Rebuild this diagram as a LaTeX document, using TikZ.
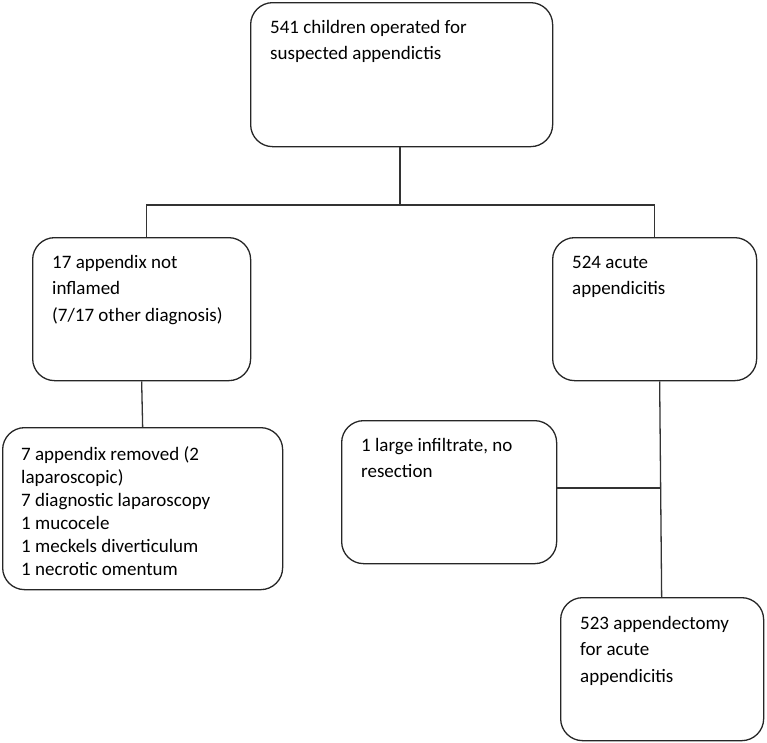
\documentclass[tikz,border=0pt]{standalone}
\usepackage{fontspec}
\setmainfont{Carlito}
\usetikzlibrary{calc}
\begin{document}
\begin{tikzpicture}[x=1pt,y=1pt,
  box/.style={draw=black!85, line width=1.3pt, rounded corners=22pt, inner sep=0pt, anchor=north west},
  conn/.style={draw=black!80, line width=1.3pt},
  txt/.style={inner sep=0pt, anchor=base west, font=\fontsize{19}{26.7}\selectfont},
  txts/.style={inner sep=0pt, anchor=base west, font=\fontsize{19}{23}\selectfont}]
\useasboundingbox (0,0) rectangle (767,-742);
\node[box, minimum width=302, minimum height=144] (top) at (250,-2) {};
\node[box, minimum width=218, minimum height=143] (left) at (32,-237) {};
\node[box, minimum width=204, minimum height=143] (right) at (552,-237) {};
\node[box, minimum width=280, minimum height=162] (bl) at (2,-427) {};
\node[box, minimum width=215, minimum height=143] (mid) at (341,-420) {};
\node[box, minimum width=203, minimum height=143] (br) at (560,-597) {};

\node[txt] (toptext) at (270,-33) {\parbox[t]{275pt}{541 children operated for\\suspected appendictis}};
\node[txt] (lefttext) at (52,-268) {\parbox[t]{195pt}{17 appendix not\\inflamed\\(7/17 other diagnosis)}};
\node[txt] (righttext) at (572,-268) {\parbox[t]{180pt}{524 acute\\appendicitis}};
\node[txts] (bltext) at (21,-460) {\parbox[t]{258pt}{7 appendix removed (2\\laparoscopic)\\7 diagnostic laparoscopy\\1 mucocele\\1 meckels diverticulum\\1 necrotic omentum}};
\node[txt] (midtext) at (361,-451) {\parbox[t]{190pt}{1 large infiltrate, no\\resection}};
\node[txt] (brtext) at (580,-629) {\parbox[t]{180pt}{523 appendectomy\\for acute\\appendicitis}};

\coordinate (split) at (400,-205);
\coordinate (j) at (660.5,-488);
\draw[conn] (top.south -| split) -- (split);
\draw[conn] (split) -| ([xshift=5pt]left.north);
\draw[conn] (split) -| (right.north);
\draw[conn] (left.south) -- (bl.north);
\draw[conn] ([xshift=5pt]right.south) -- ([xshift=-0.5pt]br.north);
\draw[conn] (mid.east |- j) -- (j);
\end{tikzpicture}
\end{document}
